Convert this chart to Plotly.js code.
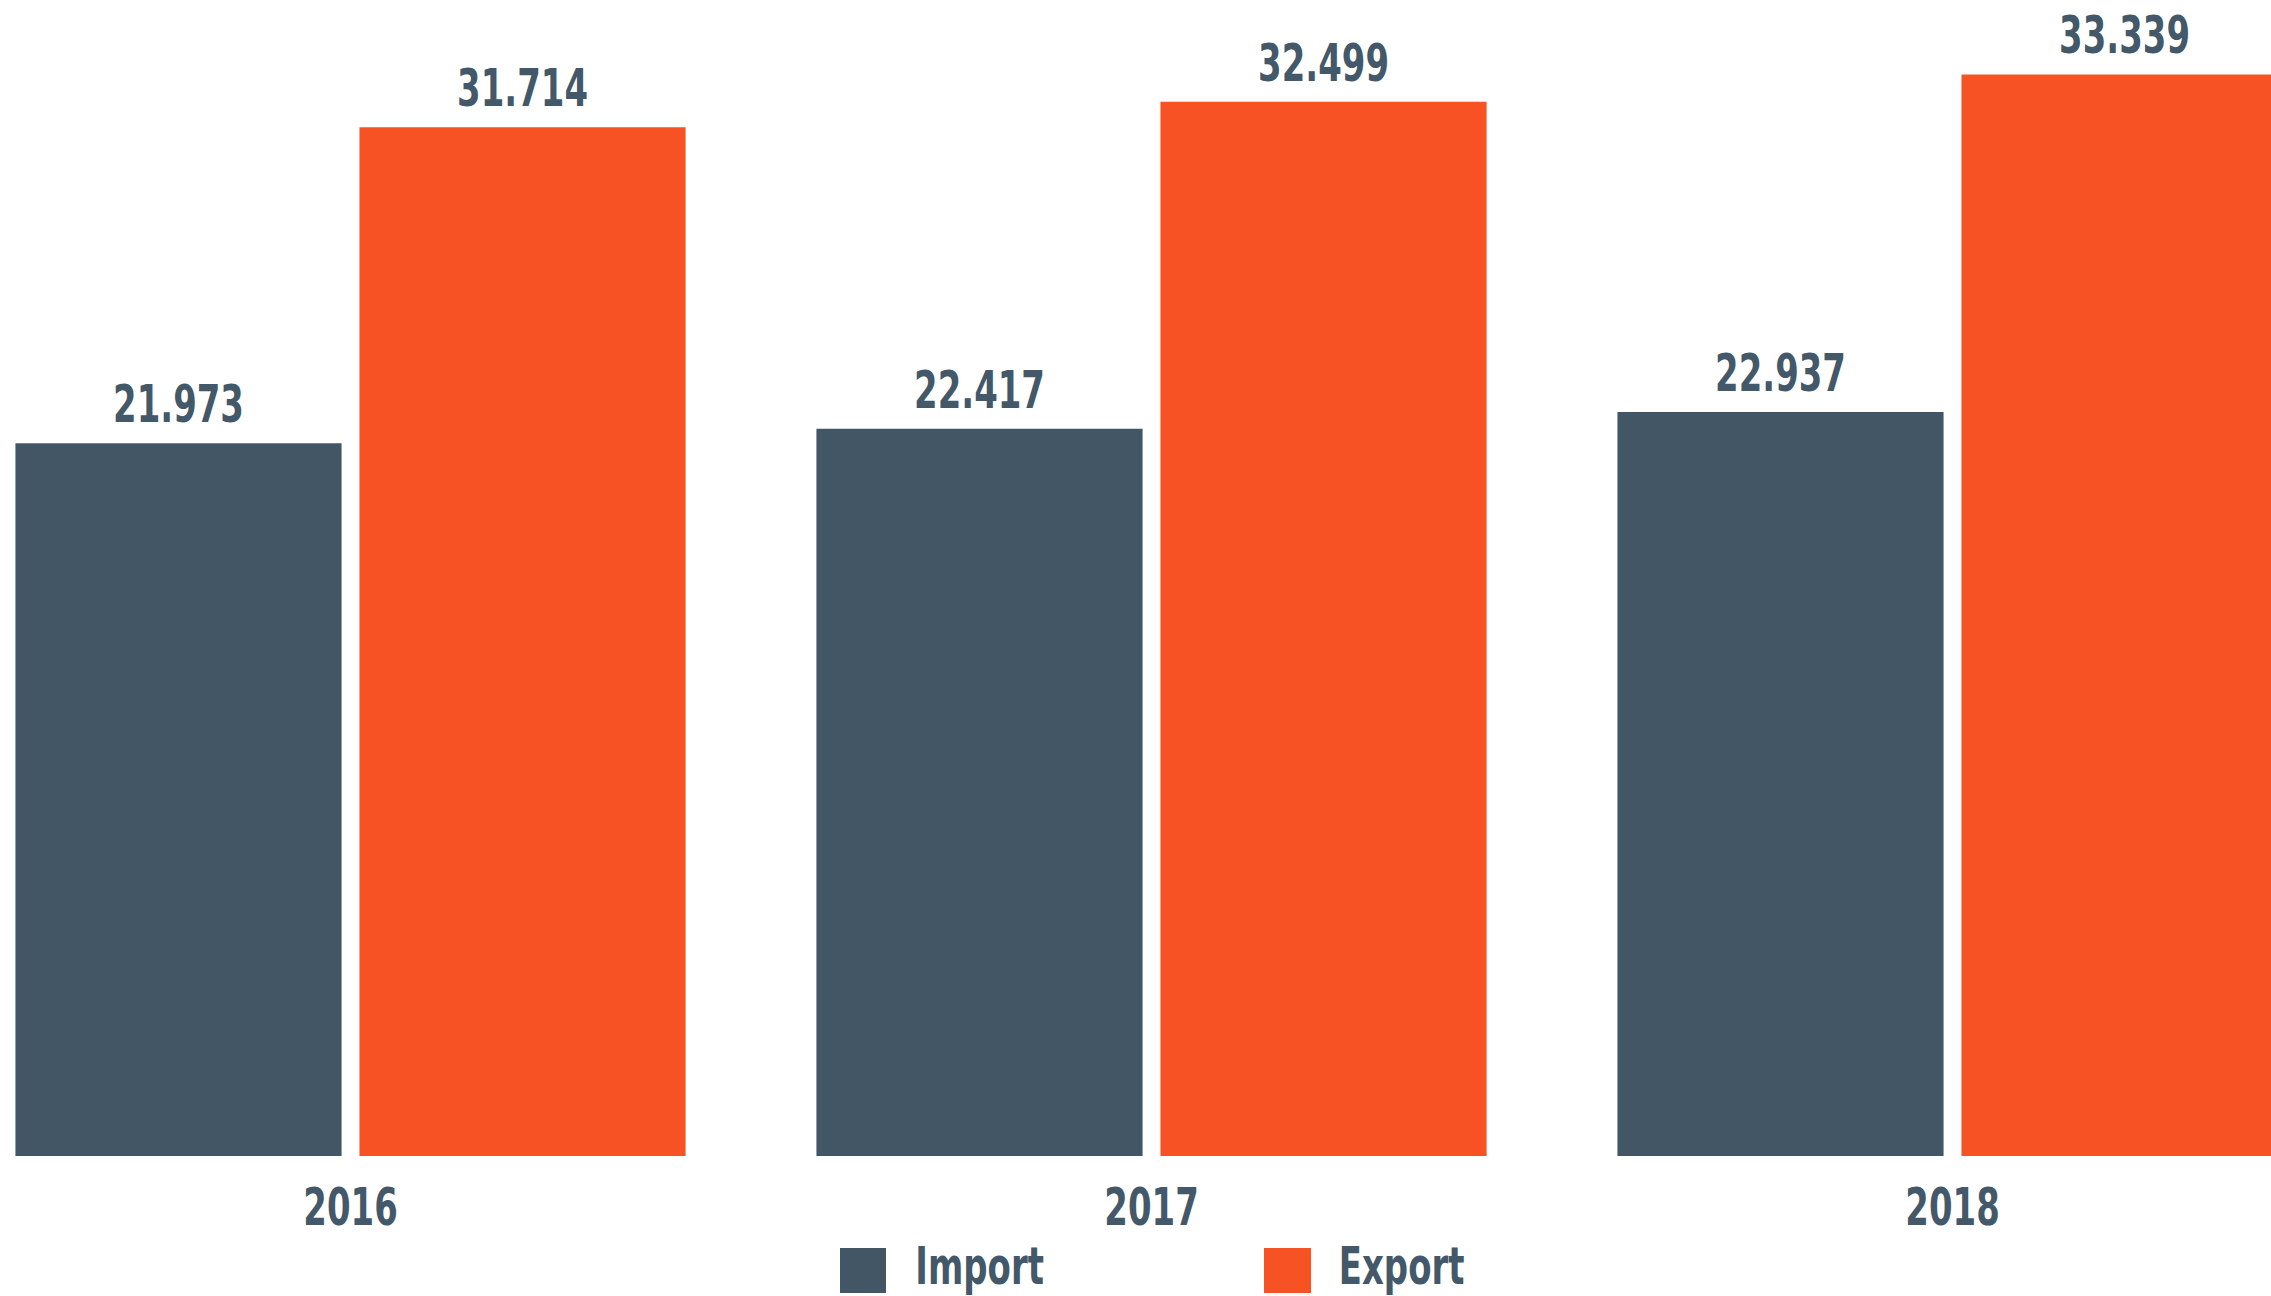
<!DOCTYPE html>
<html>
<head>
<meta charset="utf-8">
<script src="https://cdn.plot.ly/plotly-3.0.1.min.js"></script>
<style>html,body{margin:0;padding:0;background:#fff;}#chart{width:2271px;height:1296px;}</style>
</head>
<body>
<div id="chart"></div>
<script>
const years = ['2016', '2017', '2018'];
const seriesNames = ['Import', 'Export'];
const importValues = [21.973, 22.417, 22.937];
const exportValues = [31.714, 32.499, 33.339];

const W = 2271, H = 1296;
const plotBottom = 1156;
const FONT = '"Liberation Sans Narrow", "DejaVu Sans Condensed", Arial, sans-serif';
const TEXT_COLOR = '#435869';
const colors = ['#425666', '#F65224'];
const SQUEEZE = 0.725;

function px(x) { return x / W; }
function py(y) { return (plotBottom - y) / plotBottom; }

const traces = [
  {type: 'bar', name: seriesNames[0], x: years, y: importValues, marker: {color: colors[0]},
   texttemplate: '%{y:.3f}', textposition: 'outside', cliponaxis: false,
   textfont: {family: FONT, size: 52, color: TEXT_COLOR, weight: 'bold'}, hoverinfo: 'none'},
  {type: 'bar', name: seriesNames[1], x: years, y: exportValues, marker: {color: colors[1]},
   texttemplate: '%{y:.3f}', textposition: 'outside', cliponaxis: false,
   textfont: {family: FONT, size: 52, color: TEXT_COLOR, weight: 'bold'}, hoverinfo: 'none'}
];

const legendBoxes = [[840, 886], [1264, 1311]];
const legendTextCenter = [979, 1401];
const shapes = [], annotations = [];
seriesNames.forEach((n, i) => {
  shapes.push({type: 'rect', xref: 'paper', yref: 'paper', x0: px(legendBoxes[i][0]), x1: px(legendBoxes[i][1]),
    y0: py(1293), y1: py(1248), fillcolor: colors[i], line: {width: 0}});
  annotations.push({xref: 'paper', yref: 'paper', x: px(legendTextCenter[i]), y: py(1266), xanchor: 'center', yanchor: 'middle',
    text: n, showarrow: false, font: {family: FONT, size: 52, color: TEXT_COLOR, weight: 'bold'}});
});

const layout = {
  width: W, height: H,
  margin: {l: 0, r: 0, t: 0, b: H - plotBottom, pad: 0},
  paper_bgcolor: '#ffffff', plot_bgcolor: '#ffffff',
  barmode: 'group', bargap: 0.141, bargroupgap: 0.052,
  showlegend: false,
  xaxis: {type: 'category', range: [-0.4376, 2.3976], showgrid: false, showline: false, zeroline: false,
    ticks: '', ticklabelstandoff: 16, tickfont: {family: FONT, size: 52, color: TEXT_COLOR, weight: 'bold'}},
  yaxis: {range: [0, 35.635], visible: false, showgrid: false, zeroline: false},
  shapes: shapes, annotations: annotations
};

Plotly.newPlot('chart', traces, layout, {staticPlot: true, displayModeBar: false}).then(gd => {
  // condense the bold labels horizontally to mimic a condensed typeface
  gd.querySelectorAll('text.bartext, g.xtick text, text.annotation-text').forEach(t => {
    const L = t.getComputedTextLength();
    if (L > 0) {
      t.setAttribute('textLength', (L * SQUEEZE).toFixed(2));
      t.setAttribute('lengthAdjust', 'spacingAndGlyphs');
    }
  });
  gd.querySelectorAll('text.bartext').forEach(t => t.setAttribute('dy', '-6'));
});
</script>
</body>
</html>
